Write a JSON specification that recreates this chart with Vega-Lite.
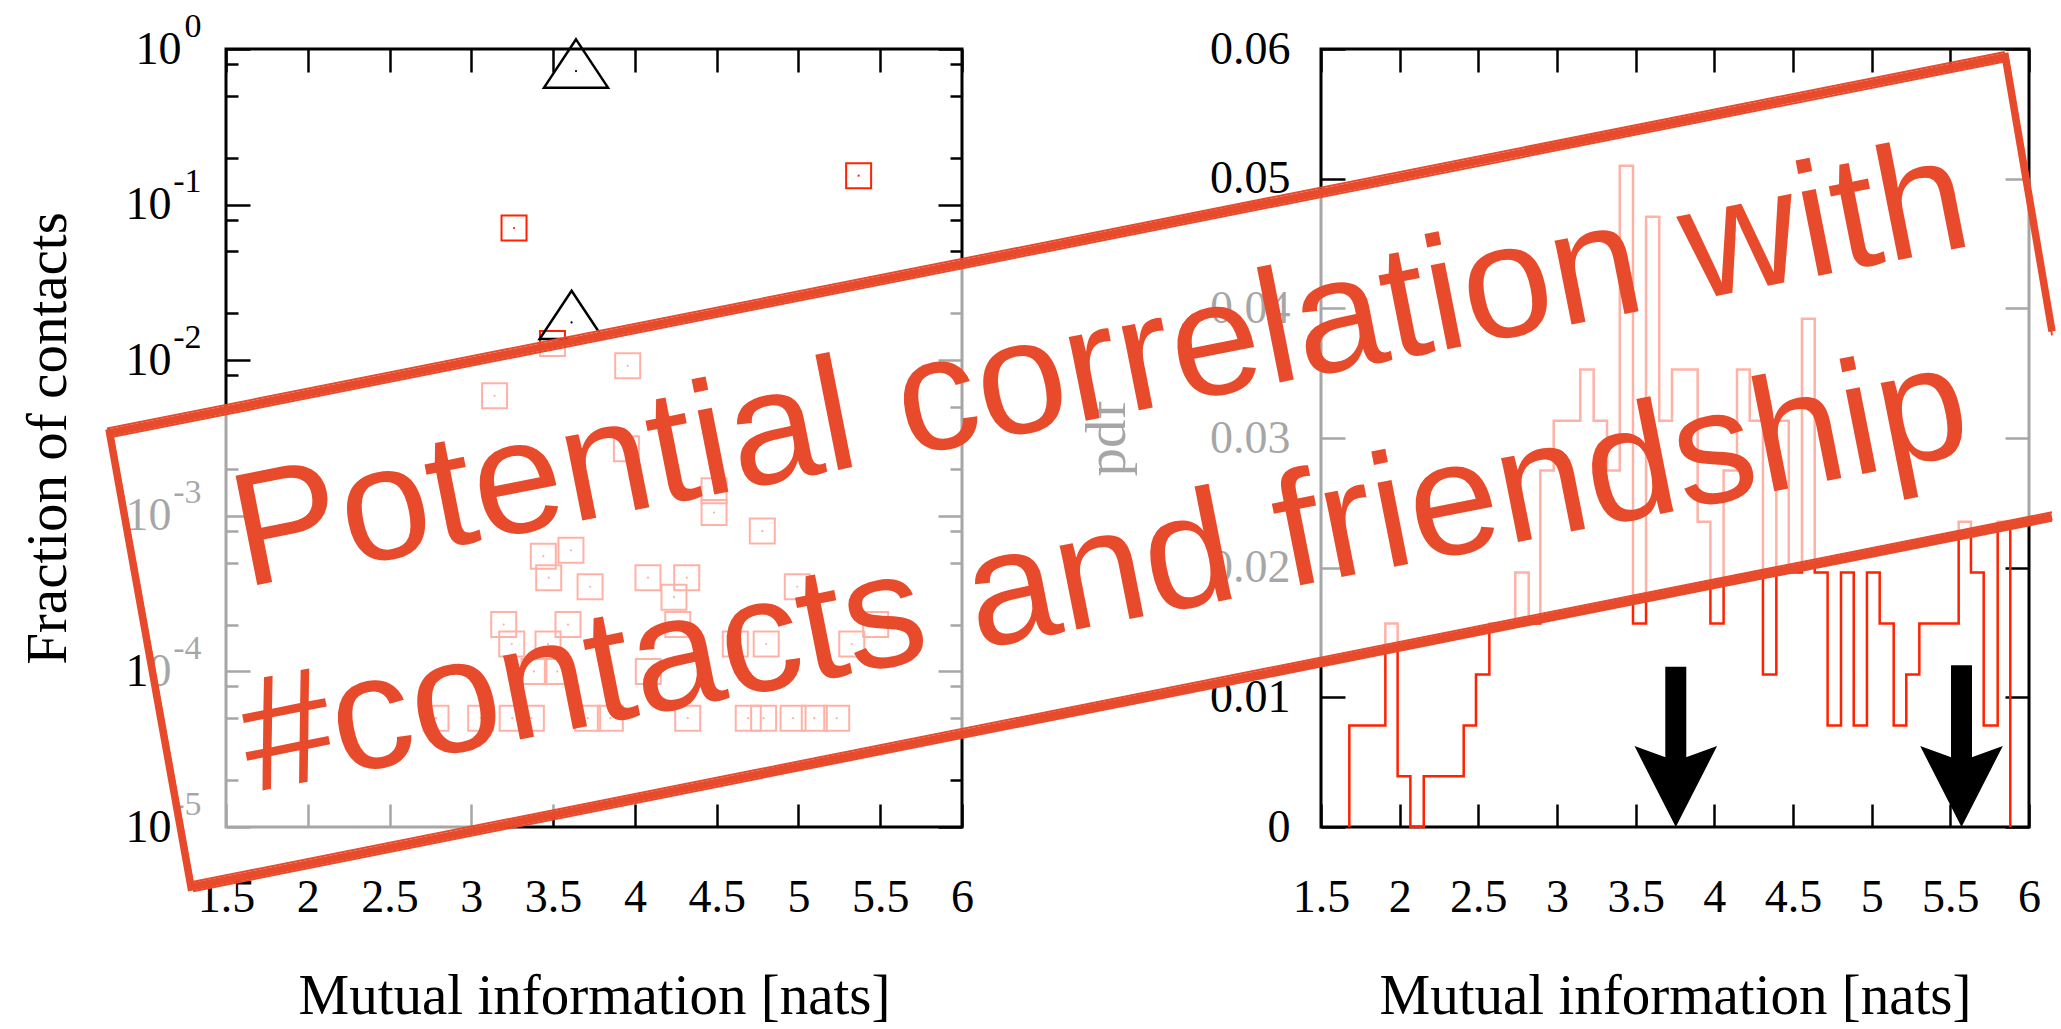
{
  "$schema": "https://vega.github.io/schema/vega-lite/v6.json",
  "background": "white",
  "padding": {"left": 17, "top": 7, "right": 0, "bottom": 0},
  "autosize": {"type": "pad"},
  "bounds": "flush",
  "spacing": 359,
  "config": {
    "view": {"stroke": "black", "strokeWidth": 3},
    "axis": {
      "domain": false, "grid": false,
      "labelFont": "Liberation Serif", "labelFontSize": 46, "labelColor": "black",
      "titleFont": "Liberation Serif", "titleFontSize": 57, "titleFontWeight": "normal", "titleColor": "black",
      "tickColor": "black", "tickWidth": 2.5, "labelOverlap": false, "labelFlush": false, "labelBound": false
    }
  },
  "datasets": {
    "scatter": [
      {"s": "sq", "x": 3.261, "f": 0.0707},
      {"s": "sq", "x": 5.368, "f": 0.1534},
      {"s": "sq", "x": 3.496, "f": 0.0128},
      {"s": "sq", "x": 3.956, "f": 0.0092},
      {"s": "sq", "x": 3.142, "f": 0.0059},
      {"s": "sq", "x": 3.948, "f": 0.0027},
      {"s": "sq", "x": 4.484, "f": 0.00145},
      {"s": "sq", "x": 4.484, "f": 0.00105},
      {"s": "sq", "x": 4.779, "f": 0.0008},
      {"s": "sq", "x": 3.440, "f": 0.00055},
      {"s": "sq", "x": 3.609, "f": 0.0006},
      {"s": "sq", "x": 3.473, "f": 0.0004},
      {"s": "sq", "x": 3.726, "f": 0.00035},
      {"s": "sq", "x": 4.080, "f": 0.0004},
      {"s": "sq", "x": 4.317, "f": 0.0004},
      {"s": "sq", "x": 4.239, "f": 0.0003},
      {"s": "sq", "x": 4.993, "f": 0.00035},
      {"s": "sq", "x": 3.198, "f": 0.0002},
      {"s": "sq", "x": 3.591, "f": 0.0002},
      {"s": "sq", "x": 4.262, "f": 0.0002},
      {"s": "sq", "x": 5.472, "f": 0.0002},
      {"s": "sq", "x": 3.247, "f": 0.00015},
      {"s": "sq", "x": 3.469, "f": 0.00015},
      {"s": "sq", "x": 4.614, "f": 0.00015},
      {"s": "sq", "x": 4.803, "f": 0.00015},
      {"s": "sq", "x": 5.326, "f": 0.00015},
      {"s": "sq", "x": 3.383, "f": 0.0001},
      {"s": "sq", "x": 3.526, "f": 0.0001},
      {"s": "sq", "x": 4.082, "f": 0.0001},
      {"s": "sq", "x": 2.784, "f": 0.00005},
      {"s": "sq", "x": 3.057, "f": 0.00005},
      {"s": "sq", "x": 3.250, "f": 0.00005},
      {"s": "sq", "x": 3.367, "f": 0.00005},
      {"s": "sq", "x": 3.711, "f": 0.00005},
      {"s": "sq", "x": 3.850, "f": 0.00005},
      {"s": "sq", "x": 4.323, "f": 0.00005},
      {"s": "sq", "x": 4.693, "f": 0.00005},
      {"s": "sq", "x": 4.787, "f": 0.00005},
      {"s": "sq", "x": 4.967, "f": 0.00005},
      {"s": "sq", "x": 5.097, "f": 0.00005},
      {"s": "sq", "x": 5.234, "f": 0.00005},
      {"s": "tri", "x": 3.640, "f": 0.722},
      {"s": "tri", "x": 3.613, "f": 0.0175}
    ],
    "hist": [
      {"i": 0, "x": 1.680, "p": 0},
      {"i": 1, "x": 1.680, "p": 0.00783},
      {"i": 2, "x": 1.909, "p": 0.01569},
      {"i": 3, "x": 1.987, "p": 0.00391},
      {"i": 4, "x": 2.068, "p": 0},
      {"i": 5, "x": 2.153, "p": 0.00391},
      {"i": 6, "x": 2.407, "p": 0.00783},
      {"i": 7, "x": 2.485, "p": 0.01177},
      {"i": 8, "x": 2.570, "p": 0.01569},
      {"i": 9, "x": 2.735, "p": 0.01963},
      {"i": 10, "x": 2.820, "p": 0.01569},
      {"i": 11, "x": 2.894, "p": 0.0275},
      {"i": 12, "x": 2.979, "p": 0.03134},
      {"i": 13, "x": 3.148, "p": 0.03528},
      {"i": 14, "x": 3.233, "p": 0.03134},
      {"i": 15, "x": 3.318, "p": 0.0275},
      {"i": 16, "x": 3.399, "p": 0.0510},
      {"i": 17, "x": 3.483, "p": 0.01569},
      {"i": 18, "x": 3.566, "p": 0.04706},
      {"i": 19, "x": 3.650, "p": 0.03134},
      {"i": 20, "x": 3.731, "p": 0.03528},
      {"i": 21, "x": 3.894, "p": 0.02355},
      {"i": 22, "x": 3.975, "p": 0.01569},
      {"i": 23, "x": 4.059, "p": 0.0275},
      {"i": 24, "x": 4.144, "p": 0.03528},
      {"i": 25, "x": 4.225, "p": 0.03134},
      {"i": 26, "x": 4.309, "p": 0.01177},
      {"i": 27, "x": 4.394, "p": 0.03134},
      {"i": 28, "x": 4.473, "p": 0.01963},
      {"i": 29, "x": 4.557, "p": 0.0392},
      {"i": 30, "x": 4.638, "p": 0.01963},
      {"i": 31, "x": 4.720, "p": 0.00783},
      {"i": 32, "x": 4.805, "p": 0.01963},
      {"i": 33, "x": 4.886, "p": 0.00783},
      {"i": 34, "x": 4.970, "p": 0.01963},
      {"i": 35, "x": 5.051, "p": 0.01569},
      {"i": 36, "x": 5.140, "p": 0.00783},
      {"i": 37, "x": 5.220, "p": 0.01177},
      {"i": 38, "x": 5.303, "p": 0.01569},
      {"i": 39, "x": 5.553, "p": 0.02355},
      {"i": 40, "x": 5.631, "p": 0.01963},
      {"i": 41, "x": 5.712, "p": 0.00783},
      {"i": 42, "x": 5.801, "p": 0.02355},
      {"i": 43, "x": 5.881, "p": 0}
    ],
    "arrows": [
      {"x": 3.755, "top": 0.01235, "neck": 0.0045, "base": 0},
      {"x": 5.571, "top": 0.01248, "neck": 0.0045, "base": 0}
    ],
    "boxfill": [
      {"x": -6.1996, "lo": 0.030401, "hi": 0.030401},
      {"x": -5.6822, "lo": -0.004627, "hi": 0.031647},
      {"x": 5.8494, "lo": 0.023206, "hi": 0.059406},
      {"x": 6.1462, "lo": 0.023923, "hi": 0.038221}
    ],
    "border": [
      {"k": "a", "o": 1, "x": 6.1462, "y": 0.023923},
      {"k": "a", "o": 2, "x": -5.6822, "y": -0.004627},
      {"k": "a", "o": 3, "x": -6.1996, "y": 0.030401},
      {"k": "a", "o": 4, "x": 5.8494, "y": 0.059406},
      {"k": "a", "o": 5, "x": 6.1462, "y": 0.038221},
      {"k": "b", "o": 1, "x": 6.1462, "y": 0.024270},
      {"k": "b", "o": 2, "x": -5.6922, "y": -0.004280},
      {"k": "b", "o": 3, "x": -6.2096, "y": 0.030748},
      {"k": "b", "o": 4, "x": 5.8394, "y": 0.059753},
      {"k": "b", "o": 5, "x": 6.1362, "y": 0.038568},
      {"k": "c", "o": 1, "x": 6.1462, "y": 0.023615},
      {"k": "c", "o": 2, "x": -5.6622, "y": -0.004935},
      {"k": "c", "o": 3, "x": -6.1796, "y": 0.030093},
      {"k": "c", "o": 4, "x": 5.8694, "y": 0.059098},
      {"k": "c", "o": 5, "x": 6.1462, "y": 0.037913}
    ],
    "stamp": [
      {"t": "Potential correlation with", "x": 0.1588, "y": 0.031694},
      {"t": "#contacts and friendship", "x": 0.1845, "y": 0.015809}
    ]
  },
  "hconcat": [
    {
      "width": 736,
      "height": 778,
      "layer": [
        {
          "data": {"name": "scatter"},
          "transform": [{"filter": "datum.s == 'sq'"}],
          "mark": {"type": "point", "shape": "square", "filled": false, "size": 625, "strokeWidth": 2, "color": "#ff2200", "opacity": 1},
          "encoding": {
            "x": {"field": "x", "type": "quantitative", "scale": {"domain": [1.5, 6], "nice": false, "zero": false},
              "axis": {"orient": "bottom", "values": [1.5, 2, 2.5, 3, 3.5, 4, 4.5, 5, 5.5, 6], "tickSize": -23, "labelPadding": 71, "labelExpr": "'' + datum.value", "title": "Mutual information [nats]", "titlePadding": 48}},
            "y": {"field": "f", "type": "quantitative", "scale": {"type": "log", "domain": [0.00001, 1], "nice": false},
              "axis": {"orient": "left", "values": [1, 0.8, 0.5, 0.2, 0.1, 0.08, 0.05, 0.02, 0.01, 0.008, 0.005, 0.002, 0.001, 0.0008, 0.0005, 0.0002, 0.0001, 0.00008, 0.00005, 0.00002, 0.00001],
                "tickSize": {"condition": {"test": "datum.value == 1 || datum.value == 0.1 || datum.value == 0.01 || datum.value == 0.001 || datum.value == 0.0001 || datum.value == 0.00001", "value": -24}, "value": -12},
                "labelPadding": {"condition": {"test": "datum.value == 1", "value": 69}, "value": 79},
                "labelExpr": "(datum.value == 1 || datum.value == 0.1 || datum.value == 0.01 || datum.value == 0.001 || datum.value == 0.0001 || datum.value == 0.00001) ? '10' : ''",
                "title": "Fraction of contacts", "titlePadding": 48}}
          }
        },
        {
          "data": {"name": "scatter"},
          "transform": [{"filter": "datum.s == 'sq'"}],
          "mark": {"type": "point", "shape": "circle", "filled": true, "size": 5, "color": "#ff2200", "opacity": 1},
          "encoding": {
            "x": {"field": "x", "type": "quantitative", "scale": {"domain": [1.5, 6], "nice": false, "zero": false}, "axis": null},
            "y": {"field": "f", "type": "quantitative", "scale": {"type": "log", "domain": [0.00001, 1], "nice": false}, "axis": null}
          }
        },
        {
          "data": {"name": "scatter"},
          "transform": [{"filter": "datum.s == 'tri'"}],
          "mark": {"type": "point", "shape": "M0,-0.99L1,0.52L-1,0.52Z", "filled": false, "size": 4096, "strokeWidth": 2.5, "color": "black", "opacity": 1},
          "encoding": {
            "x": {"field": "x", "type": "quantitative", "scale": {"domain": [1.5, 6], "nice": false, "zero": false}, "axis": null},
            "y": {"field": "f", "type": "quantitative", "scale": {"type": "log", "domain": [0.00001, 1], "nice": false}, "axis": null}
          }
        },
        {
          "data": {"name": "scatter"},
          "transform": [{"filter": "datum.s == 'tri'"}],
          "mark": {"type": "point", "shape": "circle", "filled": true, "size": 5, "color": "black", "opacity": 1},
          "encoding": {
            "x": {"field": "x", "type": "quantitative", "scale": {"domain": [1.5, 6], "nice": false, "zero": false}, "axis": null},
            "y": {"field": "f", "type": "quantitative", "scale": {"type": "log", "domain": [0.00001, 1], "nice": false}, "axis": null}
          }
        },
        {
          "data": {"name": "scatter"},
          "mark": {"type": "point", "opacity": 0},
          "encoding": {
            "x": {"field": "x", "type": "quantitative", "scale": {"domain": [1.5, 6], "nice": false, "zero": false},
              "axis": {"orient": "top", "values": [1.5, 2, 2.5, 3, 3.5, 4, 4.5, 5, 5.5, 6], "tickSize": -23, "labels": false, "title": null}},
            "y": {"field": "f", "type": "quantitative", "scale": {"type": "log", "domain": [0.00001, 1], "nice": false},
              "axis": {"orient": "right", "values": [1, 0.8, 0.5, 0.2, 0.1, 0.08, 0.05, 0.02, 0.01, 0.008, 0.005, 0.002, 0.001, 0.0008, 0.0005, 0.0002, 0.0001, 0.00008, 0.00005, 0.00002, 0.00001],
                "tickSize": {"condition": {"test": "datum.value == 1 || datum.value == 0.1 || datum.value == 0.01 || datum.value == 0.001 || datum.value == 0.0001 || datum.value == 0.00001", "value": -24}, "value": -12},
                "labels": false, "title": null}}
          }
        },
        {
          "data": {"name": "scatter"},
          "mark": {"type": "point", "opacity": 0},
          "encoding": {
            "x": {"field": "x", "type": "quantitative", "scale": {"domain": [1.5, 6], "nice": false, "zero": false}, "axis": null},
            "y": {"field": "f", "type": "quantitative", "scale": {"type": "log", "domain": [0.00001, 1], "nice": false},
              "axis": {"orient": "left", "values": [1, 0.1, 0.01, 0.001, 0.0001, 0.00001], "ticks": false, "labelFontSize": 34, "labelPadding": 25, "labelOffset": -23,
                "labelExpr": "datum.value == 1 ? '0' : datum.value == 0.1 ? '-1' : datum.value == 0.01 ? '-2' : datum.value == 0.001 ? '-3' : datum.value == 0.0001 ? '-4' : '-5'",
                "title": null}}
          }
        }
      ],
      "resolve": {"axis": {"x": "independent", "y": "independent"}}
    },
    {
      "width": 708,
      "height": 778,
      "layer": [
        {
          "data": {"name": "hist"},
          "mark": {"type": "line", "interpolate": "step-after", "color": "#ff2200", "strokeWidth": 2.5},
          "encoding": {
            "x": {"field": "x", "type": "quantitative", "scale": {"domain": [1.5, 6], "nice": false, "zero": false},
              "axis": {"orient": "bottom", "values": [1.5, 2, 2.5, 3, 3.5, 4, 4.5, 5, 5.5, 6], "tickSize": -23, "labelPadding": 71, "labelExpr": "'' + datum.value", "title": "Mutual information [nats]", "titlePadding": 48}},
            "y": {"field": "p", "type": "quantitative", "scale": {"domain": [0, 0.06], "nice": false},
              "axis": {"orient": "left", "values": [0, 0.01, 0.02, 0.03, 0.04, 0.05, 0.06], "tickSize": -24, "labelPadding": 55, "labelExpr": "'' + datum.value", "title": "pdf", "titlePadding": 73}},
            "order": {"field": "i", "type": "quantitative"}
          }
        },
        {
          "data": {"name": "arrows"},
          "mark": {"type": "rule", "strokeWidth": 21, "color": "black", "strokeCap": "butt"},
          "encoding": {
            "x": {"field": "x", "type": "quantitative", "scale": {"domain": [1.5, 6], "nice": false, "zero": false}, "axis": null},
            "y": {"field": "top", "type": "quantitative", "scale": {"domain": [0, 0.06], "nice": false}, "axis": null},
            "y2": {"field": "neck"}
          }
        },
        {
          "data": {"name": "arrows"},
          "mark": {"type": "point", "shape": "M0,0L-1,-1.96L0,-1.6L1,-1.96Z", "filled": true, "size": 6823, "color": "black", "opacity": 1, "strokeWidth": 0},
          "encoding": {
            "x": {"field": "x", "type": "quantitative", "scale": {"domain": [1.5, 6], "nice": false, "zero": false}, "axis": null},
            "y": {"field": "base", "type": "quantitative", "scale": {"domain": [0, 0.06], "nice": false}, "axis": null}
          }
        },
        {
          "data": {"name": "hist"},
          "mark": {"type": "point", "opacity": 0},
          "encoding": {
            "x": {"field": "x", "type": "quantitative", "scale": {"domain": [1.5, 6], "nice": false, "zero": false},
              "axis": {"orient": "top", "values": [1.5, 2, 2.5, 3, 3.5, 4, 4.5, 5, 5.5, 6], "tickSize": -23, "labels": false, "title": null}},
            "y": {"field": "p", "type": "quantitative", "scale": {"domain": [0, 0.06], "nice": false},
              "axis": {"orient": "right", "values": [0, 0.01, 0.02, 0.03, 0.04, 0.05, 0.06], "tickSize": -24, "labels": false, "title": null}}
          }
        },
        {
          "data": {"name": "boxfill"},
          "mark": {"type": "area", "color": "white", "opacity": 0.65, "orient": "vertical"},
          "encoding": {
            "x": {"field": "x", "type": "quantitative", "scale": {"domain": [1.5, 6], "nice": false, "zero": false}, "axis": null},
            "y": {"field": "lo", "type": "quantitative", "scale": {"domain": [0, 0.06], "nice": false}, "axis": null},
            "y2": {"field": "hi"}
          }
        },
        {
          "data": {"name": "border"},
          "transform": [{"filter": "datum.k == 'a'"}],
          "mark": {"type": "line", "color": "#e84a2c", "strokeWidth": 7.5, "strokeJoin": "miter"},
          "encoding": {
            "x": {"field": "x", "type": "quantitative", "scale": {"domain": [1.5, 6], "nice": false, "zero": false}, "axis": null},
            "y": {"field": "y", "type": "quantitative", "scale": {"domain": [0, 0.06], "nice": false}, "axis": null},
            "order": {"field": "o", "type": "quantitative"}
          }
        },
        {
          "data": {"name": "border"},
          "transform": [{"filter": "datum.k == 'b'"}],
          "mark": {"type": "line", "color": "#e84a2c", "strokeWidth": 2, "strokeJoin": "miter"},
          "encoding": {
            "x": {"field": "x", "type": "quantitative", "scale": {"domain": [1.5, 6], "nice": false, "zero": false}, "axis": null},
            "y": {"field": "y", "type": "quantitative", "scale": {"domain": [0, 0.06], "nice": false}, "axis": null},
            "order": {"field": "o", "type": "quantitative"}
          }
        },
        {
          "data": {"name": "border"},
          "transform": [{"filter": "datum.k == 'c'"}],
          "mark": {"type": "line", "color": "#e84a2c", "strokeWidth": 2, "strokeJoin": "miter"},
          "encoding": {
            "x": {"field": "x", "type": "quantitative", "scale": {"domain": [1.5, 6], "nice": false, "zero": false}, "axis": null},
            "y": {"field": "y", "type": "quantitative", "scale": {"domain": [0, 0.06], "nice": false}, "axis": null},
            "order": {"field": "o", "type": "quantitative"}
          }
        },
        {
          "data": {"name": "stamp"},
          "mark": {"type": "text", "font": "Liberation Sans", "fontSize": 162, "angle": -11.2, "align": "center", "baseline": "alphabetic", "color": "#e84a2c"},
          "encoding": {
            "x": {"field": "x", "type": "quantitative", "scale": {"domain": [1.5, 6], "nice": false, "zero": false}, "axis": null},
            "y": {"field": "y", "type": "quantitative", "scale": {"domain": [0, 0.06], "nice": false}, "axis": null},
            "text": {"field": "t"}
          }
        }
      ],
      "resolve": {"axis": {"x": "independent", "y": "independent"}}
    }
  ]
}
